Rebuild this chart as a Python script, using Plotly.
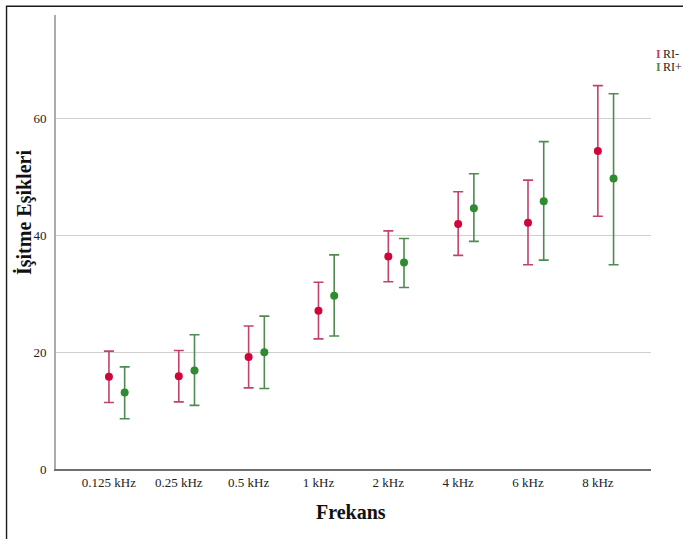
import plotly.graph_objects as go

categories = ["0.125 kHz", "0.25 kHz", "0.5 kHz", "1 kHz", "2 kHz", "4 kHz", "6 kHz", "8 kHz"]

ri_minus_mean = [15.8, 15.9, 19.2, 27.1, 36.4, 42.0, 42.2, 54.5]
ri_minus_upper = [20.2, 20.3, 24.5, 32.0, 40.8, 47.5, 49.5, 65.7]
ri_minus_lower = [11.4, 11.5, 13.9, 22.3, 32.1, 36.6, 35.0, 43.3]

ri_plus_mean = [13.1, 16.9, 20.0, 29.7, 35.4, 44.7, 45.9, 49.8]
ri_plus_upper = [17.5, 23.0, 26.2, 36.7, 39.5, 50.6, 56.1, 64.3]
ri_plus_lower = [8.6, 10.9, 13.8, 22.8, 31.1, 39.0, 35.8, 35.0]

y_ticks = [0, 20, 40, 60]

W, H = 683, 539
L, R, T, B = 56, 31.5, 15, 70
PW, PH = W - L - R, H - T - B

def px_x(p):
    return (p - L) / PW

def px_y(p):
    return (H - B - p) / PH

SERIF = "Liberation Serif, Times New Roman, serif"
RED_M, RED_E = "#D0063A", "#C2436A"
GRN_M, GRN_E = "#2E8B30", "#4F8A50"
offset = 0.225

idx = list(range(len(categories)))

fig = go.Figure()
fig.add_trace(go.Scatter(
    x=idx, y=ri_minus_mean, mode="markers", name="RI-",
    marker=dict(color=RED_M, size=8),
    error_y=dict(type="data", symmetric=False,
                 array=[u - m for u, m in zip(ri_minus_upper, ri_minus_mean)],
                 arrayminus=[m - l for m, l in zip(ri_minus_mean, ri_minus_lower)],
                 color=RED_E, thickness=1.6, width=5),
))
fig.add_trace(go.Scatter(
    x=[i + offset for i in idx], y=ri_plus_mean, mode="markers", name="RI+",
    marker=dict(color=GRN_M, size=8),
    error_y=dict(type="data", symmetric=False,
                 array=[u - m for u, m in zip(ri_plus_upper, ri_plus_mean)],
                 arrayminus=[m - l for m, l in zip(ri_plus_mean, ri_plus_lower)],
                 color=GRN_E, thickness=1.6, width=5),
))

fig.update_layout(
    width=W, height=H,
    margin=dict(l=L, r=R, t=T, b=B, autoexpand=False),
    paper_bgcolor="white", plot_bgcolor="white",
    showlegend=False,
    font=dict(family=SERIF, size=13, color="#222222"),
    xaxis=dict(
        range=[-0.758, 7.761], tickmode="array", tickvals=idx, ticktext=categories,
        showgrid=False, zeroline=False, showline=True, linecolor="#6E6E6E", linewidth=1.6,
        ticks="", ticklabelstandoff=1, tickfont=dict(family=SERIF, size=13, color="#222222"),
    ),
    yaxis=dict(
        range=[0, 77.8], tickmode="array", tickvals=y_ticks,
        showgrid=True, gridcolor="#D0D0D0", gridwidth=1.4,
        zeroline=False, showline=True, linecolor="#ABABAB", linewidth=2,
        ticks="", ticklabelstandoff=5, tickfont=dict(family=SERIF, size=13, color="#222222"),
    ),
    shapes=[dict(type="rect", xref="paper", yref="paper",
                 x0=px_x(6.5), x1=px_x(760), y0=px_y(620), y1=px_y(6.3),
                 line=dict(color="#1A1A1A", width=1.4), fillcolor="rgba(0,0,0,0)", layer="above")],
    annotations=[
        dict(text="<b>İşitme Eşikleri</b>", xref="paper", yref="paper",
             x=px_x(24), y=px_y(213), textangle=-90, showarrow=False,
             xanchor="center", yanchor="middle",
             font=dict(family=SERIF, size=20, color="#111111")),
        dict(text="<b>Frekans</b>", xref="paper", yref="paper",
             x=px_x(351), y=px_y(511.5), showarrow=False,
             xanchor="center", yanchor="middle",
             font=dict(family=SERIF, size=20, color="#111111")),
        dict(text="<b>I</b>", xref="paper", yref="paper", x=px_x(655), y=px_y(53.5),
             showarrow=False, xanchor="left", yanchor="middle",
             font=dict(family=SERIF, size=12, color=RED_E)),
        dict(text="RI-", xref="paper", yref="paper", x=px_x(662), y=px_y(53.5),
             showarrow=False, xanchor="left", yanchor="middle",
             font=dict(family=SERIF, size=12, color="#222222")),
        dict(text="<b>I</b>", xref="paper", yref="paper", x=px_x(655), y=px_y(67.5),
             showarrow=False, xanchor="left", yanchor="middle",
             font=dict(family=SERIF, size=12, color=GRN_E)),
        dict(text="RI+", xref="paper", yref="paper", x=px_x(662), y=px_y(67.5),
             showarrow=False, xanchor="left", yanchor="middle",
             font=dict(family=SERIF, size=12, color="#222222")),
    ],
)

fig.write_html("out.html", config={"displayModeBar": False},
               post_script="document.body.style.margin='0';")
